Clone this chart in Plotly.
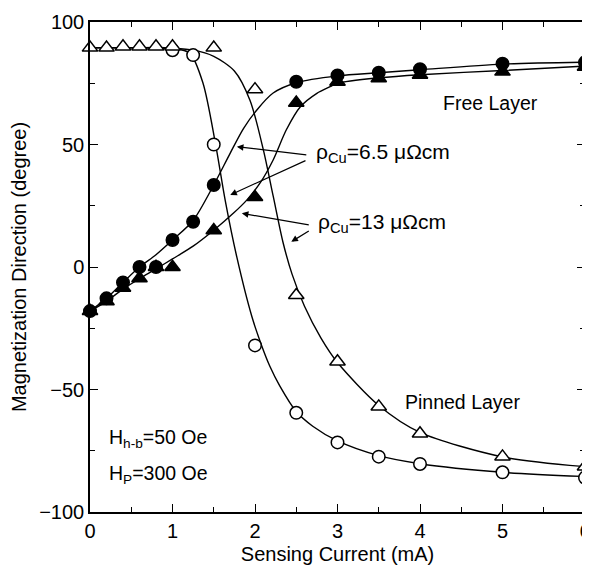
import plotly.graph_objects as go

# ---- measured data points ----
# Free layer, rho_Cu = 6.5 (filled circles)
free65_x = [0, 0.2, 0.4, 0.6, 0.8, 1.0, 1.25, 1.5, 2.5, 3.0, 3.5, 4.0, 5.0, 6.0]
free65_y = [-18, -12.8, -6.3, 0, 0, 11, 18.5, 33.5, 75.6, 78.2, 79.3, 80.7, 83.0, 83.5]
# Free layer, rho_Cu = 13 (filled triangles)
free13_x = [0, 0.2, 0.4, 0.6, 0.8, 1.0, 1.5, 2.0, 2.5, 3.0, 3.5, 4.0, 5.0, 6.0]
free13_y = [-18, -14, -8.5, -4.6, 0, 0, 15, 28.5, 67, 75.6, 77, 78.4, 79.7, 81.7]
# Pinned layer, rho_Cu = 6.5 (open circles)
pin65_x = [1.0, 1.25, 1.5, 2.0, 2.5, 3.0, 3.5, 4.0, 5.0, 6.0]
pin65_y = [88.5, 86.5, 50, -32, -59.5, -71.6, -77.4, -80.4, -83.8, -86]
# Pinned layer, rho_Cu = 13 (open triangles)
pin13_x = [0, 0.2, 0.4, 0.6, 0.8, 1.0, 1.5, 2.0, 2.5, 3.0, 3.5, 4.0, 5.0, 6.0]
pin13_y = [89.5, 89.5, 90, 90, 90, 90, 89.5, 72.5, -11.5, -38.6, -57, -68, -77.4, -81.5]

# ---- fitted guide curves ----
fit_free65_x = [0, 0.2, 0.4, 0.6, 0.8, 1.0, 1.25, 1.5, 1.7, 1.86, 2.02, 2.22, 2.5, 3.0, 3.5, 4.0, 5.0, 6.0]
fit_free65_y = [-18, -12.8, -6.3, 0, 5, 11, 19, 33.5, 46.5, 56.5, 64, 71, 75.2, 78, 79.3, 80.5, 82.8, 83.6]
fit_free13_x = [0, 0.2, 0.4, 0.6, 0.8, 1.0, 1.25, 1.5, 1.74, 1.9, 2.06, 2.22, 2.38, 2.55, 2.75, 2.91, 3.0, 3.5, 4.0, 5.0, 6.0]
fit_free13_y = [-18, -14, -9, -4.8, -0.8, 3.3, 8.5, 15, 22, 27.3, 34.2, 43.7, 56, 65.4, 70.9, 73.6, 75, 77.2, 78.5, 80.2, 82]
fit_pin65_x = [0, 0.5, 1.0, 1.21, 1.37, 1.52, 1.64, 1.78, 1.96, 2.08, 2.18, 2.3, 2.5, 2.7, 3.0, 3.5, 4.0, 5.0, 6.0]
fit_pin65_y = [89.5, 89.5, 89.3, 87.3, 75, 50.5, 27, 4, -20, -32, -40.5, -48.5, -59, -65, -71, -77, -80.3, -83.8, -85.5]
fit_pin13_x = [0, 0.5, 1.0, 1.25, 1.5, 1.75, 1.94, 2.1, 2.22, 2.34, 2.45, 2.6, 2.8, 3.0, 3.5, 4.0, 5.0, 6.0]
fit_pin13_y = [89.5, 89.5, 89.2, 88.5, 86, 80, 68, 48, 29, 10, -3, -16, -29, -39, -56.5, -67.5, -77.5, -81.5]

# ---- axis ticks ----
x_ticks = [0, 1, 2, 3, 4, 5, 6]
y_ticks = [-100, -50, 0, 50, 100]

# ---- labels & arrows ----
label_65 = "ρ<sub>Cu</sub>=6.5 μΩcm"
label_13 = "ρ<sub>Cu</sub>=13 μΩcm"
arrows = [  # (tail_x, tail_y, head_x, head_y)
    (2.64, 45.7, 1.78, 49.1),
    (2.63, 43.7, 1.70, 29.4),
    (2.67, 17.1, 1.84, 21.9),
    (2.67, 15.1, 2.44, 10.3),
]

FONT = "Liberation Sans, Arial, Helvetica, sans-serif"
BLACK = "#000000"

fig = go.Figure()

for cx, cy in [(fit_pin65_x, fit_pin65_y), (fit_pin13_x, fit_pin13_y),
               (fit_free65_x, fit_free65_y), (fit_free13_x, fit_free13_y)]:
    fig.add_trace(go.Scatter(x=cx, y=cy, mode="lines",
                             line=dict(color=BLACK, width=1.4, shape="spline", smoothing=0.8),
                             hoverinfo="skip", showlegend=False))

def add_pts(x, y, symbol, fill, size):
    fig.add_trace(go.Scatter(x=x, y=y, mode="markers", showlegend=False, cliponaxis=False,
                             marker=dict(symbol=symbol, size=size, color=fill,
                                         line=dict(color=BLACK, width=1.5))))

add_pts(pin65_x, pin65_y, "circle", "white", 12.5)
add_pts(pin13_x, pin13_y, "triangle-up", "white", 13.5)
add_pts(free65_x, free65_y, "circle", BLACK, 12.5)
add_pts(free13_x, free13_y, "triangle-up", BLACK, 13.5)

ann = []
for tx, ty, hx, hy in arrows:
    ann.append(dict(x=hx, y=hy, ax=tx, ay=ty, xref="x", yref="y", axref="x", ayref="y",
                    showarrow=True, arrowhead=2, arrowsize=1.1, arrowwidth=1.2, arrowcolor=BLACK, text=""))

def txt(x, y, s, anchor="left", size=19.5):
    ann.append(dict(x=x, y=y, xref="x", yref="y", text=s, showarrow=False, xanchor=anchor, yanchor="middle",
                    font=dict(family=FONT, size=size, color=BLACK)))

txt(2.72, 46.5, label_65, size=21)
txt(2.74, 18, label_13, size=21)
txt(4.85, 67, "Free Layer", "center")
txt(4.52, -55, "Pinned Layer", "center")
txt(0.21, -70, "H<sub>h-b</sub>=50 Oe")
txt(0.21, -84.5, "H<sub>P</sub>=300 Oe")

axis_common = dict(showline=True, linecolor=BLACK, linewidth=1.5, mirror="ticks", ticks="inside",
                   tickcolor=BLACK, tickwidth=1.2, ticklen=8, showgrid=False, zeroline=False,
                   automargin=False, ticklabeloverflow="allow",
                   tickfont=dict(family=FONT, size=20, color=BLACK))

# the page body adds an 8px offset, so the figure is 8px smaller than the window
fig.update_layout(
    width=582, height=558,
    margin=dict(l=82, r=5, t=14, b=54),
    paper_bgcolor="white", plot_bgcolor="white",
    showlegend=False,
    annotations=ann,
    xaxis=dict(range=[0, 6], tickvals=x_ticks,
               minor=dict(dtick=0.5, ticks="inside", ticklen=5, tickcolor=BLACK, tickwidth=1),
               title=dict(text="Sensing Current (mA)", font=dict(family=FONT, size=20, color=BLACK), standoff=6),
               **axis_common),
    yaxis=dict(range=[-100, 100], tickvals=y_ticks,
               minor=dict(dtick=25, ticks="inside", ticklen=5, tickcolor=BLACK, tickwidth=1),
               title=dict(text="Magnetization Direction (degree)", font=dict(family=FONT, size=20, color=BLACK), standoff=10),
               **axis_common),
)

fig.write_html("out.html")
